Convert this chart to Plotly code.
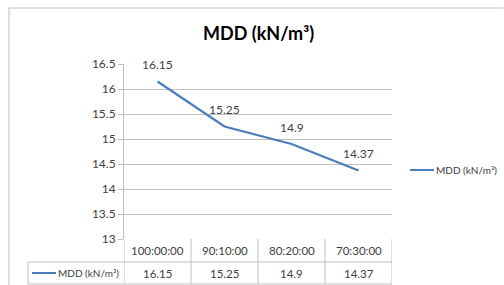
import plotly.graph_objects as go

categories = ["100:00:00", "90:10:00", "80:20:00", "70:30:00"]
mdd_values = [16.15, 15.25, 14.9, 14.37]
series_name = "MDD (kN/m³)"
y_ticks = [13, 13.5, 14, 14.5, 15, 15.5, 16, 16.5]
y_tick_labels = ["13", "13.5", "14", "14.5", "15", "15.5", "16", "16.5"]
title_text = "MDD (kN/m³)"

W, H = 504, 285
L, R, T, B = 124, 392, 64, 239  # plot area in window px
LINE_COLOR = "#4a7ebb"
GRID = "#bfbfbf"
TXT = "#404040"
FONT = "Lato, Carlito, Calibri, sans-serif"


def px(xp):
    return (xp - L) / (R - L)


def py(yp):
    return (B - yp) / (B - T)


fig = go.Figure()
fig.add_trace(go.Scatter(
    x=list(range(len(categories))), y=mdd_values, mode="lines",
    line=dict(color=LINE_COLOR, width=2.25), name=series_name,
    showlegend=False, hoverinfo="skip",
))

annotations = []
shapes = []

# data labels
for i, v in enumerate(mdd_values):
    annotations.append(dict(x=i, y=v, xref="x", yref="y", text=f"{v:g}",
                            showarrow=False, yshift=17,
                            font=dict(size=12, color=TXT, family=FONT)))

# title
annotations.append(dict(x=px(258), y=py(33), xref="paper", yref="paper",
                        text=f"<b>{title_text}</b>", showarrow=False,
                        font=dict(size=18, color="#000000", family=FONT),
                        xanchor="center", yanchor="middle"))

# data table
row1_top, row1_bot, row2_bot = 239, 262, 284
for y in [row1_bot, row2_bot]:
    shapes.append(dict(type="line", xref="paper", yref="paper",
                       x0=px(28), x1=1, y0=py(y), y1=py(y),
                       line=dict(color=GRID, width=1)))
for k in range(len(categories) + 1):
    shapes.append(dict(type="line", xref="x", yref="paper",
                       x0=k - 0.5, x1=k - 0.5, y0=py(row1_top), y1=py(row2_bot),
                       line=dict(color=GRID, width=1)))
shapes.append(dict(type="line", xref="paper", yref="paper",
                   x0=px(28), x1=px(28), y0=py(row1_bot), y1=py(row2_bot),
                   line=dict(color=GRID, width=1)))
for i, (c, v) in enumerate(zip(categories, mdd_values)):
    annotations.append(dict(x=i, y=py((row1_top + row1_bot) / 2), xref="x", yref="paper",
                            text=c, showarrow=False, yanchor="middle",
                            font=dict(size=11.5, color=TXT, family=FONT)))
    annotations.append(dict(x=i, y=py((row1_bot + row2_bot) / 2), xref="x", yref="paper",
                            text=f"{v:g}", showarrow=False, yanchor="middle",
                            font=dict(size=11.5, color=TXT, family=FONT)))

# legend key in table
ty = (row1_bot + row2_bot) / 2
shapes.append(dict(type="line", xref="paper", yref="paper",
                   x0=px(32), x1=px(56), y0=py(ty), y1=py(ty),
                   line=dict(color=LINE_COLOR, width=2)))
annotations.append(dict(x=px(56), y=py(ty), xref="paper", yref="paper",
                        text=series_name, showarrow=False, xanchor="left",
                        yanchor="middle",
                        font=dict(size=10, color=TXT, family=FONT)))

# right legend
ly = 170
shapes.append(dict(type="line", xref="paper", yref="paper",
                   x0=px(410), x1=px(434), y0=py(ly), y1=py(ly),
                   line=dict(color=LINE_COLOR, width=2)))
annotations.append(dict(x=px(434), y=py(ly), xref="paper", yref="paper",
                        text=series_name, showarrow=False, xanchor="left",
                        yanchor="middle",
                        font=dict(size=10, color=TXT, family=FONT)))

# outer chart border (top and left edges only are visible)
shapes.append(dict(type="line", xref="paper", yref="paper",
                   x0=px(9), x1=px(503.5), y0=py(8), y1=py(8),
                   line=dict(color="#bfbfbf", width=1)))
shapes.append(dict(type="line", xref="paper", yref="paper",
                   x0=px(9), x1=px(9), y0=py(8), y1=py(285),
                   line=dict(color="#bfbfbf", width=1)))

fig.update_layout(
    width=W, height=H,
    margin=dict(l=L, r=W - R, t=T, b=H - B, pad=0),
    paper_bgcolor="white", plot_bgcolor="white",
    showlegend=False,
    annotations=annotations, shapes=shapes,
    xaxis=dict(range=[-0.5, len(categories) - 0.5], showticklabels=False,
               showgrid=False, zeroline=False, showline=False, ticks="",
               fixedrange=True),
    yaxis=dict(range=[13, 16.5], tickvals=y_ticks, ticktext=y_tick_labels,
               showgrid=True, gridcolor=GRID, gridwidth=1,
               zeroline=False, showline=True, linecolor=GRID, linewidth=1,
               ticks="outside", ticklen=5, tickcolor=GRID,
               tickfont=dict(size=12, color=TXT, family=FONT),
               fixedrange=True),
)

fig.write_html(
    "out.html",
    config={"displayModeBar": False},
    post_script=(
        "document.documentElement.style.overflow='hidden';"
        "document.body.style.margin='0';"
        "document.body.style.overflow='hidden';"
    ),
)
